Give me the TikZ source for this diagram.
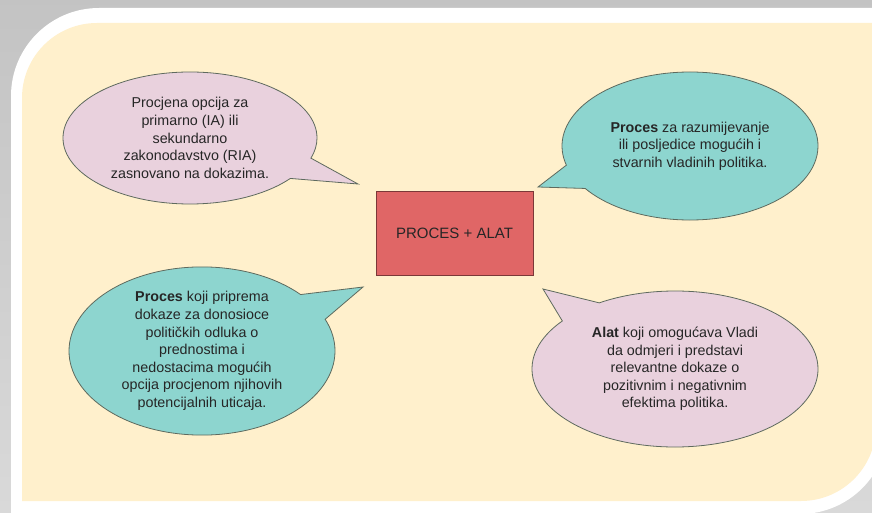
\documentclass[tikz,border=0pt]{standalone}
\usepackage{fontspec}
\setmainfont{Liberation Sans}
\usepackage{tikz}
\usetikzlibrary{shapes.callouts}
\definecolor{frameshadow}{HTML}{D9D9D9}
\definecolor{paper}{HTML}{FFF0CC}
\definecolor{bubblepink}{HTML}{E9D1DD}
\definecolor{bubblecyan}{HTML}{8DD5CF}
\definecolor{boxred}{HTML}{E06666}
\definecolor{rimgray}{HTML}{5E6A5E}

\begin{document}
\begin{tikzpicture}[x=1pt, y=1pt,
  bubble/.style={ellipse callout, draw=rimgray, line width=0.8pt, inner sep=0pt, align=center,
    text=black!85, font=\fontsize{14.3}{17.6}\selectfont, callout pointer arc=20},
  pinkbubble/.style={bubble, fill=bubblepink},
  cyanbubble/.style={bubble, fill=bubblecyan}]
 \useasboundingbox (0,0) rectangle (872,512);
 % frame and paper
 \shade[top color=frameshadow!90!black, bottom color=frameshadow] (0,0) rectangle (872,512);
 \fill[white] (11,-2) -- (11,416) arc (180:90:88) -- (888,504) -- (888,86) arc (0:-90:88) -- cycle;
 \fill[paper] (22,11) -- (22,414) arc (180:90:75) -- (876,489) -- (876,86) arc (0:-90:75) -- cycle;
 % centre
 \node (core) [draw=boxred!55!black, fill=boxred, minimum width=157pt, minimum height=84pt,
   font=\fontsize{15}{18}\selectfont, text=black!85] at (454.5,279) {PROCES + ALAT};
 % bubbles
 \coordinate (tipA) at (358,328);
 \coordinate (tipB) at (538,325);
 \coordinate (tipC) at (363,225);
 \coordinate (tipD) at (543,223);
 \node (evidence) [pinkbubble, minimum width=254pt, minimum height=132pt, callout absolute pointer={(tipA)}]
   at (190,374) {Procjena opcija za\\primarno (IA) ili\\sekundarno\\zakonodavstvo (RIA)\\zasnovano na dokazima.};
 \node (understand) [cyanbubble, minimum width=256pt, minimum height=148pt, callout absolute pointer={(tipB)}]
   at (690,366) {\textbf{Proces} za razumijevanje\\ili posljedice mogućih i\\stvarnih vladinih politika.};
 \node (prepare) [cyanbubble, minimum width=266pt, minimum height=166pt, callout absolute pointer={(tipC)}]
   at (202,161) {\textbf{Proces} koji priprema\\dokaze za donosioce\\političkih odluka o\\prednostima i\\nedostacima mogućih\\opcija procjenom njihovih\\potencijalnih uticaja.};
 \node (tool) [pinkbubble, minimum width=286pt, minimum height=156pt, callout absolute pointer={(tipD)}]
   at (675,143) {\textbf{Alat} koji omogućava Vladi\\da odmjeri i predstavi\\relevantne dokaze o\\pozitivnim i negativnim\\efektima politika.};
\end{tikzpicture}
\end{document}
